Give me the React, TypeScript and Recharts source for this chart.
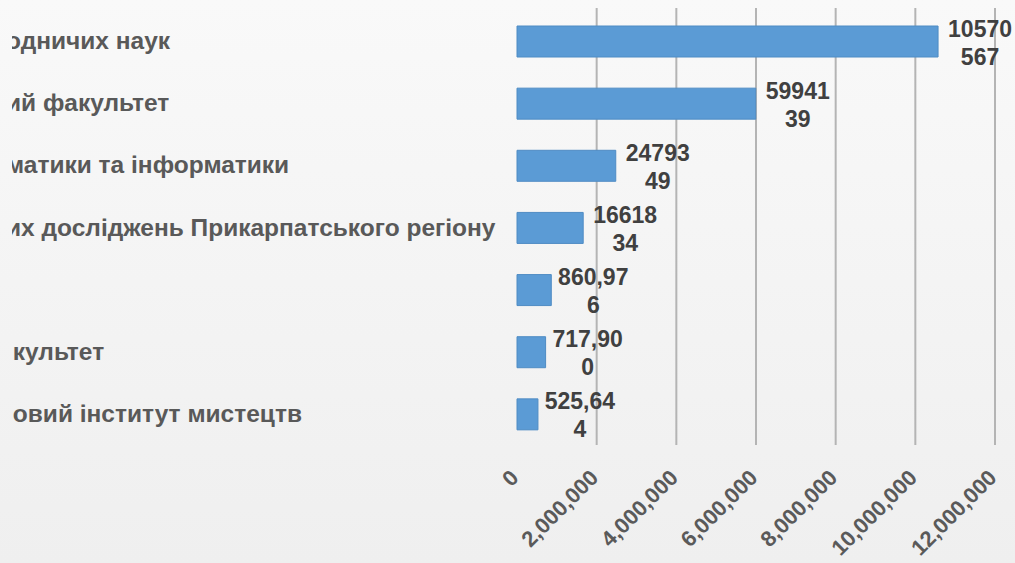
import { BarChart, Bar, XAxis, YAxis, CartesianGrid, LabelList } from "recharts"

// visible (cropped) category names, top to bottom
const categories = [
  "одничих наук",
  "ий факультет",
  "матики та інформатики",
  "их досліджень Прикарпатського регіону",
  "",
  "\u00a0культет",
  "\u00a0овий інститут мистецтв",
]

const values = [10570567, 5994139, 2479349, 1661834, 860976, 717900, 525644]

const valueLabels = ["10570567", "5994139", "2479349", "1661834", "860,976", "717,900", "525,644"]

const xTicks = [0, 2000000, 4000000, 6000000, 8000000, 10000000, 12000000]

const data = categories.map((name, i) => ({ name, value: values[i], label: valueLabels[i] }))

const FONT = "'Liberation Sans', Arial, sans-serif"

// break a label like Excel does when it runs out of width
function wrapLabel(s: string) {
  const maxEm = 3.1
  let w = 0
  let cut = s.length
  for (let i = 0; i < s.length; i++) {
    w += s[i] === "," ? 0.278 : 0.556
    if (w > maxEm) {
      cut = i
      break
    }
  }
  return [s.slice(0, cut), s.slice(cut)]
}

function CatTick(props: any) {
  const { y, payload } = props
  return (
    <text x={6} y={y} dy={8} textAnchor="start" fontFamily={FONT} fontSize={24.5} fontWeight="bold" fill="#595959">
      {payload.value}
    </text>
  )
}

function XTick(props: any) {
  const { x, y, payload } = props
  const tx = x + 3
  const ty = y + 26
  return (
    <text
      x={tx}
      y={ty}
      textAnchor="end"
      transform={`rotate(-45, ${tx}, ${ty})`}
      fontFamily={FONT}
      fontSize={22}
      fontWeight="bold"
      fill="#5a5a5a"
    >
      {payload.value.toLocaleString("en-US")}
    </text>
  )
}

function ValueLabel(props: any) {
  const { x, y, width, height, index } = props
  const [a, b] = wrapLabel(valueLabels[index])
  const cx = x + width + 42
  const cy = y + height / 2
  return (
    <text textAnchor="middle" fontFamily={FONT} fontSize={23} fontWeight="bold" fill="#404040">
      <tspan x={cx} y={cy - 5}>{a}</tspan>
      <tspan x={cx} y={cy + 23}>{b}</tspan>
    </text>
  )
}

function GridLine(props: any) {
  const { x1, y1, x2, y2 } = props
  if (x1 < 520) return <g key={`g-${x1}`} />
  return <line key={`g-${x1}`} x1={x1} y1={y1 - 2} x2={x2} y2={y2} stroke="#b4b4b4" strokeWidth={2} />
}

export default function App() {
  return (
    <div
      style={{
        position: "fixed",
        left: 0,
        top: 0,
        width: 1015,
        height: 563,
        background: "linear-gradient(180deg, #f9f9f9 0%, #f3f3f3 60%, #efefef 100%)",
      }}
    >
      <div style={{ position: "absolute", left: 12, top: 0, width: 1003, height: 563, overflow: "hidden" }}>
        <div style={{ marginLeft: -12 }}>
          <BarChart
            width={1015}
            height={563}
            data={data}
            layout="vertical"
            margin={{ top: 10, right: 20, bottom: 0, left: 0 }}
            barCategoryGap="25%"
          >
            <CartesianGrid horizontal={false} vertical={GridLine} />
            <XAxis
              type="number"
              domain={[0, 12000000]}
              ticks={xTicks}
              axisLine={false}
              tickLine={false}
              height={118}
              tick={<XTick />}
              interval={0}
            />
            <YAxis
              type="category"
              dataKey="name"
              width={517}
              axisLine={false}
              tickLine={false}
              tick={<CatTick />}
              interval={0}
            />
            <Bar dataKey="value" fill="#5b9bd5" stroke="#4f8cc4" strokeWidth={1} barSize={31} isAnimationActive={false}>
              <LabelList dataKey="label" content={<ValueLabel />} />
            </Bar>
          </BarChart>
        </div>
      </div>
    </div>
  )
}
